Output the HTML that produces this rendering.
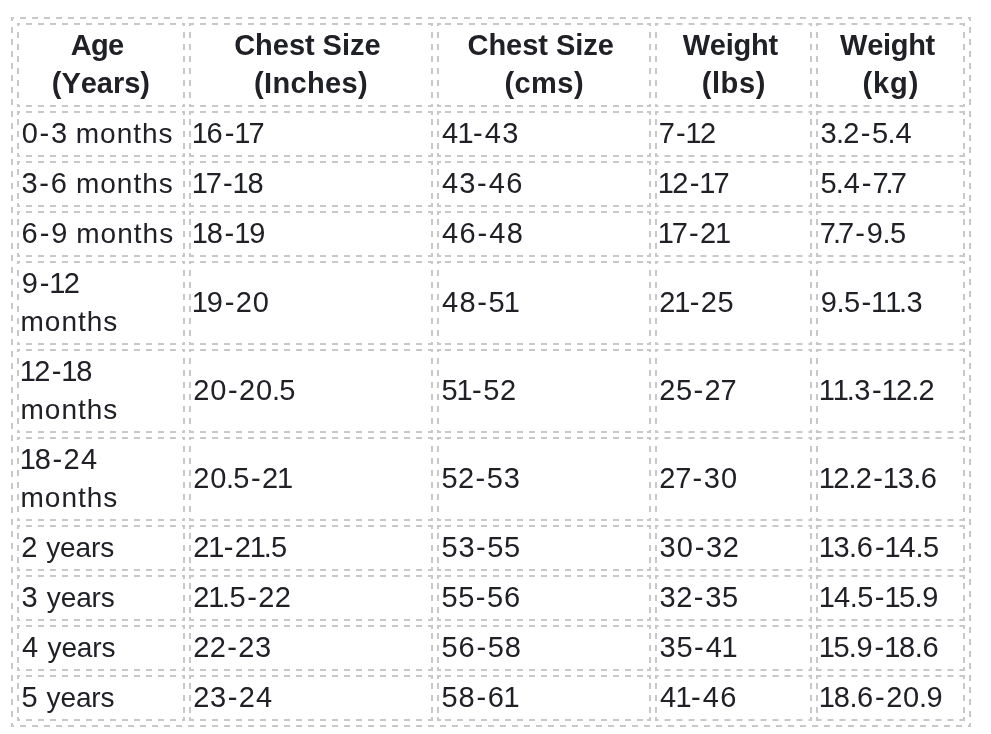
<!DOCTYPE html>
<html lang="en">
<head>
<meta charset="utf-8">
<title>Size chart</title>
<style>
html,body{margin:0;padding:0;background:#fff;}
body{width:991px;height:734px;overflow:hidden;}
svg{display:block;will-change:transform;font-family:"Liberation Sans",Arial,sans-serif;font-size:29px;fill:#202126;}
.bd path{stroke:#c8c8c8;stroke-width:2;fill:none;}
.bd .d{stroke-dasharray:6 6;}
.hd{font-weight:bold;}
.w{font-size:28px;}
text{white-space:pre;}
</style>
</head>
<body>
<svg width="991" height="734" viewBox="0 0 991 734">
<g class="bd">
<path d="M11 18h2M969 18h2"/>
<path class="d" d="M13 18H969" stroke-dashoffset="5"/>
<path d="M11 726h2M969 726h2"/>
<path class="d" d="M13 726H969" stroke-dashoffset="5"/>
<path d="M12 17v2M12 725v2"/>
<path class="d" d="M12 19V725" stroke-dashoffset="4"/>
<path d="M970 17v2M970 725v2"/>
<path class="d" d="M970 19V725" stroke-dashoffset="4"/>
<path d="M17 24h2M183 24h2"/>
<path class="d" d="M19 24H183" stroke-dashoffset="5"/>
<path d="M17 106h2M183 106h2"/>
<path class="d" d="M19 106H183" stroke-dashoffset="5"/>
<path d="M18 23v2M18 105v2"/>
<path class="d" d="M18 25V105" stroke-dashoffset="5"/>
<path d="M184 23v2M184 105v2"/>
<path class="d" d="M184 25V105" stroke-dashoffset="5"/>
<path d="M189 24h2M431 24h2"/>
<path class="d" d="M191 24H431" stroke-dashoffset="3"/>
<path d="M189 106h2M431 106h2"/>
<path class="d" d="M191 106H431" stroke-dashoffset="3"/>
<path d="M190 23v2M190 105v2"/>
<path class="d" d="M190 25V105" stroke-dashoffset="5"/>
<path d="M432 23v2M432 105v2"/>
<path class="d" d="M432 25V105" stroke-dashoffset="5"/>
<path d="M437 24h4M647 24h4"/>
<path class="d" d="M445 24H643"/>
<path d="M437 106h4M647 106h4"/>
<path class="d" d="M445 106H643"/>
<path d="M438 23v2M438 105v2"/>
<path class="d" d="M438 25V105" stroke-dashoffset="5"/>
<path d="M650 23v2M650 105v2"/>
<path class="d" d="M650 25V105" stroke-dashoffset="5"/>
<path d="M655 24h2M810 24h2"/>
<path class="d" d="M657 24H810" stroke-dashoffset="4.5"/>
<path d="M655 106h2M810 106h2"/>
<path class="d" d="M657 106H810" stroke-dashoffset="4.5"/>
<path d="M656 23v2M656 105v2"/>
<path class="d" d="M656 25V105" stroke-dashoffset="5"/>
<path d="M811 23v2M811 105v2"/>
<path class="d" d="M811 25V105" stroke-dashoffset="5"/>
<path d="M816 24h2M963 24h2"/>
<path class="d" d="M818 24H963" stroke-dashoffset="2.5"/>
<path d="M816 106h2M963 106h2"/>
<path class="d" d="M818 106H963" stroke-dashoffset="2.5"/>
<path d="M817 23v2M817 105v2"/>
<path class="d" d="M817 25V105" stroke-dashoffset="5"/>
<path d="M964 23v2M964 105v2"/>
<path class="d" d="M964 25V105" stroke-dashoffset="5"/>
<path d="M17 112h2M183 112h2"/>
<path class="d" d="M19 112H183" stroke-dashoffset="5"/>
<path d="M17 156h2M183 156h2"/>
<path class="d" d="M19 156H183" stroke-dashoffset="5"/>
<path d="M18 111v4M18 153v4"/>
<path class="d" d="M18 119V149"/>
<path d="M184 111v4M184 153v4"/>
<path class="d" d="M184 119V149"/>
<path d="M189 112h2M431 112h2"/>
<path class="d" d="M191 112H431" stroke-dashoffset="3"/>
<path d="M189 156h2M431 156h2"/>
<path class="d" d="M191 156H431" stroke-dashoffset="3"/>
<path d="M190 111v4M190 153v4"/>
<path class="d" d="M190 119V149"/>
<path d="M432 111v4M432 153v4"/>
<path class="d" d="M432 119V149"/>
<path d="M437 112h4M647 112h4"/>
<path class="d" d="M445 112H643"/>
<path d="M437 156h4M647 156h4"/>
<path class="d" d="M445 156H643"/>
<path d="M438 111v4M438 153v4"/>
<path class="d" d="M438 119V149"/>
<path d="M650 111v4M650 153v4"/>
<path class="d" d="M650 119V149"/>
<path d="M655 112h2M810 112h2"/>
<path class="d" d="M657 112H810" stroke-dashoffset="4.5"/>
<path d="M655 156h2M810 156h2"/>
<path class="d" d="M657 156H810" stroke-dashoffset="4.5"/>
<path d="M656 111v4M656 153v4"/>
<path class="d" d="M656 119V149"/>
<path d="M811 111v4M811 153v4"/>
<path class="d" d="M811 119V149"/>
<path d="M816 112h2M963 112h2"/>
<path class="d" d="M818 112H963" stroke-dashoffset="2.5"/>
<path d="M816 156h2M963 156h2"/>
<path class="d" d="M818 156H963" stroke-dashoffset="2.5"/>
<path d="M817 111v4M817 153v4"/>
<path class="d" d="M817 119V149"/>
<path d="M964 111v4M964 153v4"/>
<path class="d" d="M964 119V149"/>
<path d="M17 162h2M183 162h2"/>
<path class="d" d="M19 162H183" stroke-dashoffset="5"/>
<path d="M17 206h2M183 206h2"/>
<path class="d" d="M19 206H183" stroke-dashoffset="5"/>
<path d="M18 161v4M18 203v4"/>
<path class="d" d="M18 169V199"/>
<path d="M184 161v4M184 203v4"/>
<path class="d" d="M184 169V199"/>
<path d="M189 162h2M431 162h2"/>
<path class="d" d="M191 162H431" stroke-dashoffset="3"/>
<path d="M189 206h2M431 206h2"/>
<path class="d" d="M191 206H431" stroke-dashoffset="3"/>
<path d="M190 161v4M190 203v4"/>
<path class="d" d="M190 169V199"/>
<path d="M432 161v4M432 203v4"/>
<path class="d" d="M432 169V199"/>
<path d="M437 162h4M647 162h4"/>
<path class="d" d="M445 162H643"/>
<path d="M437 206h4M647 206h4"/>
<path class="d" d="M445 206H643"/>
<path d="M438 161v4M438 203v4"/>
<path class="d" d="M438 169V199"/>
<path d="M650 161v4M650 203v4"/>
<path class="d" d="M650 169V199"/>
<path d="M655 162h2M810 162h2"/>
<path class="d" d="M657 162H810" stroke-dashoffset="4.5"/>
<path d="M655 206h2M810 206h2"/>
<path class="d" d="M657 206H810" stroke-dashoffset="4.5"/>
<path d="M656 161v4M656 203v4"/>
<path class="d" d="M656 169V199"/>
<path d="M811 161v4M811 203v4"/>
<path class="d" d="M811 169V199"/>
<path d="M816 162h2M963 162h2"/>
<path class="d" d="M818 162H963" stroke-dashoffset="2.5"/>
<path d="M816 206h2M963 206h2"/>
<path class="d" d="M818 206H963" stroke-dashoffset="2.5"/>
<path d="M817 161v4M817 203v4"/>
<path class="d" d="M817 169V199"/>
<path d="M964 161v4M964 203v4"/>
<path class="d" d="M964 169V199"/>
<path d="M17 212h2M183 212h2"/>
<path class="d" d="M19 212H183" stroke-dashoffset="5"/>
<path d="M17 256h2M183 256h2"/>
<path class="d" d="M19 256H183" stroke-dashoffset="5"/>
<path d="M18 211v4M18 253v4"/>
<path class="d" d="M18 219V249"/>
<path d="M184 211v4M184 253v4"/>
<path class="d" d="M184 219V249"/>
<path d="M189 212h2M431 212h2"/>
<path class="d" d="M191 212H431" stroke-dashoffset="3"/>
<path d="M189 256h2M431 256h2"/>
<path class="d" d="M191 256H431" stroke-dashoffset="3"/>
<path d="M190 211v4M190 253v4"/>
<path class="d" d="M190 219V249"/>
<path d="M432 211v4M432 253v4"/>
<path class="d" d="M432 219V249"/>
<path d="M437 212h4M647 212h4"/>
<path class="d" d="M445 212H643"/>
<path d="M437 256h4M647 256h4"/>
<path class="d" d="M445 256H643"/>
<path d="M438 211v4M438 253v4"/>
<path class="d" d="M438 219V249"/>
<path d="M650 211v4M650 253v4"/>
<path class="d" d="M650 219V249"/>
<path d="M655 212h2M810 212h2"/>
<path class="d" d="M657 212H810" stroke-dashoffset="4.5"/>
<path d="M655 256h2M810 256h2"/>
<path class="d" d="M657 256H810" stroke-dashoffset="4.5"/>
<path d="M656 211v4M656 253v4"/>
<path class="d" d="M656 219V249"/>
<path d="M811 211v4M811 253v4"/>
<path class="d" d="M811 219V249"/>
<path d="M816 212h2M963 212h2"/>
<path class="d" d="M818 212H963" stroke-dashoffset="2.5"/>
<path d="M816 256h2M963 256h2"/>
<path class="d" d="M818 256H963" stroke-dashoffset="2.5"/>
<path d="M817 211v4M817 253v4"/>
<path class="d" d="M817 219V249"/>
<path d="M964 211v4M964 253v4"/>
<path class="d" d="M964 219V249"/>
<path d="M17 262h2M183 262h2"/>
<path class="d" d="M19 262H183" stroke-dashoffset="5"/>
<path d="M17 344h2M183 344h2"/>
<path class="d" d="M19 344H183" stroke-dashoffset="5"/>
<path d="M18 261v2M18 343v2"/>
<path class="d" d="M18 263V343" stroke-dashoffset="5"/>
<path d="M184 261v2M184 343v2"/>
<path class="d" d="M184 263V343" stroke-dashoffset="5"/>
<path d="M189 262h2M431 262h2"/>
<path class="d" d="M191 262H431" stroke-dashoffset="3"/>
<path d="M189 344h2M431 344h2"/>
<path class="d" d="M191 344H431" stroke-dashoffset="3"/>
<path d="M190 261v2M190 343v2"/>
<path class="d" d="M190 263V343" stroke-dashoffset="5"/>
<path d="M432 261v2M432 343v2"/>
<path class="d" d="M432 263V343" stroke-dashoffset="5"/>
<path d="M437 262h4M647 262h4"/>
<path class="d" d="M445 262H643"/>
<path d="M437 344h4M647 344h4"/>
<path class="d" d="M445 344H643"/>
<path d="M438 261v2M438 343v2"/>
<path class="d" d="M438 263V343" stroke-dashoffset="5"/>
<path d="M650 261v2M650 343v2"/>
<path class="d" d="M650 263V343" stroke-dashoffset="5"/>
<path d="M655 262h2M810 262h2"/>
<path class="d" d="M657 262H810" stroke-dashoffset="4.5"/>
<path d="M655 344h2M810 344h2"/>
<path class="d" d="M657 344H810" stroke-dashoffset="4.5"/>
<path d="M656 261v2M656 343v2"/>
<path class="d" d="M656 263V343" stroke-dashoffset="5"/>
<path d="M811 261v2M811 343v2"/>
<path class="d" d="M811 263V343" stroke-dashoffset="5"/>
<path d="M816 262h2M963 262h2"/>
<path class="d" d="M818 262H963" stroke-dashoffset="2.5"/>
<path d="M816 344h2M963 344h2"/>
<path class="d" d="M818 344H963" stroke-dashoffset="2.5"/>
<path d="M817 261v2M817 343v2"/>
<path class="d" d="M817 263V343" stroke-dashoffset="5"/>
<path d="M964 261v2M964 343v2"/>
<path class="d" d="M964 263V343" stroke-dashoffset="5"/>
<path d="M17 350h2M183 350h2"/>
<path class="d" d="M19 350H183" stroke-dashoffset="5"/>
<path d="M17 432h2M183 432h2"/>
<path class="d" d="M19 432H183" stroke-dashoffset="5"/>
<path d="M18 349v2M18 431v2"/>
<path class="d" d="M18 351V431" stroke-dashoffset="5"/>
<path d="M184 349v2M184 431v2"/>
<path class="d" d="M184 351V431" stroke-dashoffset="5"/>
<path d="M189 350h2M431 350h2"/>
<path class="d" d="M191 350H431" stroke-dashoffset="3"/>
<path d="M189 432h2M431 432h2"/>
<path class="d" d="M191 432H431" stroke-dashoffset="3"/>
<path d="M190 349v2M190 431v2"/>
<path class="d" d="M190 351V431" stroke-dashoffset="5"/>
<path d="M432 349v2M432 431v2"/>
<path class="d" d="M432 351V431" stroke-dashoffset="5"/>
<path d="M437 350h4M647 350h4"/>
<path class="d" d="M445 350H643"/>
<path d="M437 432h4M647 432h4"/>
<path class="d" d="M445 432H643"/>
<path d="M438 349v2M438 431v2"/>
<path class="d" d="M438 351V431" stroke-dashoffset="5"/>
<path d="M650 349v2M650 431v2"/>
<path class="d" d="M650 351V431" stroke-dashoffset="5"/>
<path d="M655 350h2M810 350h2"/>
<path class="d" d="M657 350H810" stroke-dashoffset="4.5"/>
<path d="M655 432h2M810 432h2"/>
<path class="d" d="M657 432H810" stroke-dashoffset="4.5"/>
<path d="M656 349v2M656 431v2"/>
<path class="d" d="M656 351V431" stroke-dashoffset="5"/>
<path d="M811 349v2M811 431v2"/>
<path class="d" d="M811 351V431" stroke-dashoffset="5"/>
<path d="M816 350h2M963 350h2"/>
<path class="d" d="M818 350H963" stroke-dashoffset="2.5"/>
<path d="M816 432h2M963 432h2"/>
<path class="d" d="M818 432H963" stroke-dashoffset="2.5"/>
<path d="M817 349v2M817 431v2"/>
<path class="d" d="M817 351V431" stroke-dashoffset="5"/>
<path d="M964 349v2M964 431v2"/>
<path class="d" d="M964 351V431" stroke-dashoffset="5"/>
<path d="M17 438h2M183 438h2"/>
<path class="d" d="M19 438H183" stroke-dashoffset="5"/>
<path d="M17 520h2M183 520h2"/>
<path class="d" d="M19 520H183" stroke-dashoffset="5"/>
<path d="M18 437v2M18 519v2"/>
<path class="d" d="M18 439V519" stroke-dashoffset="5"/>
<path d="M184 437v2M184 519v2"/>
<path class="d" d="M184 439V519" stroke-dashoffset="5"/>
<path d="M189 438h2M431 438h2"/>
<path class="d" d="M191 438H431" stroke-dashoffset="3"/>
<path d="M189 520h2M431 520h2"/>
<path class="d" d="M191 520H431" stroke-dashoffset="3"/>
<path d="M190 437v2M190 519v2"/>
<path class="d" d="M190 439V519" stroke-dashoffset="5"/>
<path d="M432 437v2M432 519v2"/>
<path class="d" d="M432 439V519" stroke-dashoffset="5"/>
<path d="M437 438h4M647 438h4"/>
<path class="d" d="M445 438H643"/>
<path d="M437 520h4M647 520h4"/>
<path class="d" d="M445 520H643"/>
<path d="M438 437v2M438 519v2"/>
<path class="d" d="M438 439V519" stroke-dashoffset="5"/>
<path d="M650 437v2M650 519v2"/>
<path class="d" d="M650 439V519" stroke-dashoffset="5"/>
<path d="M655 438h2M810 438h2"/>
<path class="d" d="M657 438H810" stroke-dashoffset="4.5"/>
<path d="M655 520h2M810 520h2"/>
<path class="d" d="M657 520H810" stroke-dashoffset="4.5"/>
<path d="M656 437v2M656 519v2"/>
<path class="d" d="M656 439V519" stroke-dashoffset="5"/>
<path d="M811 437v2M811 519v2"/>
<path class="d" d="M811 439V519" stroke-dashoffset="5"/>
<path d="M816 438h2M963 438h2"/>
<path class="d" d="M818 438H963" stroke-dashoffset="2.5"/>
<path d="M816 520h2M963 520h2"/>
<path class="d" d="M818 520H963" stroke-dashoffset="2.5"/>
<path d="M817 437v2M817 519v2"/>
<path class="d" d="M817 439V519" stroke-dashoffset="5"/>
<path d="M964 437v2M964 519v2"/>
<path class="d" d="M964 439V519" stroke-dashoffset="5"/>
<path d="M17 526h2M183 526h2"/>
<path class="d" d="M19 526H183" stroke-dashoffset="5"/>
<path d="M17 570h2M183 570h2"/>
<path class="d" d="M19 570H183" stroke-dashoffset="5"/>
<path d="M18 525v4M18 567v4"/>
<path class="d" d="M18 533V563"/>
<path d="M184 525v4M184 567v4"/>
<path class="d" d="M184 533V563"/>
<path d="M189 526h2M431 526h2"/>
<path class="d" d="M191 526H431" stroke-dashoffset="3"/>
<path d="M189 570h2M431 570h2"/>
<path class="d" d="M191 570H431" stroke-dashoffset="3"/>
<path d="M190 525v4M190 567v4"/>
<path class="d" d="M190 533V563"/>
<path d="M432 525v4M432 567v4"/>
<path class="d" d="M432 533V563"/>
<path d="M437 526h4M647 526h4"/>
<path class="d" d="M445 526H643"/>
<path d="M437 570h4M647 570h4"/>
<path class="d" d="M445 570H643"/>
<path d="M438 525v4M438 567v4"/>
<path class="d" d="M438 533V563"/>
<path d="M650 525v4M650 567v4"/>
<path class="d" d="M650 533V563"/>
<path d="M655 526h2M810 526h2"/>
<path class="d" d="M657 526H810" stroke-dashoffset="4.5"/>
<path d="M655 570h2M810 570h2"/>
<path class="d" d="M657 570H810" stroke-dashoffset="4.5"/>
<path d="M656 525v4M656 567v4"/>
<path class="d" d="M656 533V563"/>
<path d="M811 525v4M811 567v4"/>
<path class="d" d="M811 533V563"/>
<path d="M816 526h2M963 526h2"/>
<path class="d" d="M818 526H963" stroke-dashoffset="2.5"/>
<path d="M816 570h2M963 570h2"/>
<path class="d" d="M818 570H963" stroke-dashoffset="2.5"/>
<path d="M817 525v4M817 567v4"/>
<path class="d" d="M817 533V563"/>
<path d="M964 525v4M964 567v4"/>
<path class="d" d="M964 533V563"/>
<path d="M17 576h2M183 576h2"/>
<path class="d" d="M19 576H183" stroke-dashoffset="5"/>
<path d="M17 620h2M183 620h2"/>
<path class="d" d="M19 620H183" stroke-dashoffset="5"/>
<path d="M18 575v4M18 617v4"/>
<path class="d" d="M18 583V613"/>
<path d="M184 575v4M184 617v4"/>
<path class="d" d="M184 583V613"/>
<path d="M189 576h2M431 576h2"/>
<path class="d" d="M191 576H431" stroke-dashoffset="3"/>
<path d="M189 620h2M431 620h2"/>
<path class="d" d="M191 620H431" stroke-dashoffset="3"/>
<path d="M190 575v4M190 617v4"/>
<path class="d" d="M190 583V613"/>
<path d="M432 575v4M432 617v4"/>
<path class="d" d="M432 583V613"/>
<path d="M437 576h4M647 576h4"/>
<path class="d" d="M445 576H643"/>
<path d="M437 620h4M647 620h4"/>
<path class="d" d="M445 620H643"/>
<path d="M438 575v4M438 617v4"/>
<path class="d" d="M438 583V613"/>
<path d="M650 575v4M650 617v4"/>
<path class="d" d="M650 583V613"/>
<path d="M655 576h2M810 576h2"/>
<path class="d" d="M657 576H810" stroke-dashoffset="4.5"/>
<path d="M655 620h2M810 620h2"/>
<path class="d" d="M657 620H810" stroke-dashoffset="4.5"/>
<path d="M656 575v4M656 617v4"/>
<path class="d" d="M656 583V613"/>
<path d="M811 575v4M811 617v4"/>
<path class="d" d="M811 583V613"/>
<path d="M816 576h2M963 576h2"/>
<path class="d" d="M818 576H963" stroke-dashoffset="2.5"/>
<path d="M816 620h2M963 620h2"/>
<path class="d" d="M818 620H963" stroke-dashoffset="2.5"/>
<path d="M817 575v4M817 617v4"/>
<path class="d" d="M817 583V613"/>
<path d="M964 575v4M964 617v4"/>
<path class="d" d="M964 583V613"/>
<path d="M17 626h2M183 626h2"/>
<path class="d" d="M19 626H183" stroke-dashoffset="5"/>
<path d="M17 670h2M183 670h2"/>
<path class="d" d="M19 670H183" stroke-dashoffset="5"/>
<path d="M18 625v4M18 667v4"/>
<path class="d" d="M18 633V663"/>
<path d="M184 625v4M184 667v4"/>
<path class="d" d="M184 633V663"/>
<path d="M189 626h2M431 626h2"/>
<path class="d" d="M191 626H431" stroke-dashoffset="3"/>
<path d="M189 670h2M431 670h2"/>
<path class="d" d="M191 670H431" stroke-dashoffset="3"/>
<path d="M190 625v4M190 667v4"/>
<path class="d" d="M190 633V663"/>
<path d="M432 625v4M432 667v4"/>
<path class="d" d="M432 633V663"/>
<path d="M437 626h4M647 626h4"/>
<path class="d" d="M445 626H643"/>
<path d="M437 670h4M647 670h4"/>
<path class="d" d="M445 670H643"/>
<path d="M438 625v4M438 667v4"/>
<path class="d" d="M438 633V663"/>
<path d="M650 625v4M650 667v4"/>
<path class="d" d="M650 633V663"/>
<path d="M655 626h2M810 626h2"/>
<path class="d" d="M657 626H810" stroke-dashoffset="4.5"/>
<path d="M655 670h2M810 670h2"/>
<path class="d" d="M657 670H810" stroke-dashoffset="4.5"/>
<path d="M656 625v4M656 667v4"/>
<path class="d" d="M656 633V663"/>
<path d="M811 625v4M811 667v4"/>
<path class="d" d="M811 633V663"/>
<path d="M816 626h2M963 626h2"/>
<path class="d" d="M818 626H963" stroke-dashoffset="2.5"/>
<path d="M816 670h2M963 670h2"/>
<path class="d" d="M818 670H963" stroke-dashoffset="2.5"/>
<path d="M817 625v4M817 667v4"/>
<path class="d" d="M817 633V663"/>
<path d="M964 625v4M964 667v4"/>
<path class="d" d="M964 633V663"/>
<path d="M17 676h2M183 676h2"/>
<path class="d" d="M19 676H183" stroke-dashoffset="5"/>
<path d="M17 720h2M183 720h2"/>
<path class="d" d="M19 720H183" stroke-dashoffset="5"/>
<path d="M18 675v4M18 717v4"/>
<path class="d" d="M18 683V713"/>
<path d="M184 675v4M184 717v4"/>
<path class="d" d="M184 683V713"/>
<path d="M189 676h2M431 676h2"/>
<path class="d" d="M191 676H431" stroke-dashoffset="3"/>
<path d="M189 720h2M431 720h2"/>
<path class="d" d="M191 720H431" stroke-dashoffset="3"/>
<path d="M190 675v4M190 717v4"/>
<path class="d" d="M190 683V713"/>
<path d="M432 675v4M432 717v4"/>
<path class="d" d="M432 683V713"/>
<path d="M437 676h4M647 676h4"/>
<path class="d" d="M445 676H643"/>
<path d="M437 720h4M647 720h4"/>
<path class="d" d="M445 720H643"/>
<path d="M438 675v4M438 717v4"/>
<path class="d" d="M438 683V713"/>
<path d="M650 675v4M650 717v4"/>
<path class="d" d="M650 683V713"/>
<path d="M655 676h2M810 676h2"/>
<path class="d" d="M657 676H810" stroke-dashoffset="4.5"/>
<path d="M655 720h2M810 720h2"/>
<path class="d" d="M657 720H810" stroke-dashoffset="4.5"/>
<path d="M656 675v4M656 717v4"/>
<path class="d" d="M656 683V713"/>
<path d="M811 675v4M811 717v4"/>
<path class="d" d="M811 683V713"/>
<path d="M816 676h2M963 676h2"/>
<path class="d" d="M818 676H963" stroke-dashoffset="2.5"/>
<path d="M816 720h2M963 720h2"/>
<path class="d" d="M818 720H963" stroke-dashoffset="2.5"/>
<path d="M817 675v4M817 717v4"/>
<path class="d" d="M817 683V713"/>
<path d="M964 675v4M964 717v4"/>
<path class="d" d="M964 683V713"/>
</g>
<g class="hd">
<text x="70.8 91 108.1" y="55">Age</text>
<text x="51.8 61.4 80.7 96.8 112.9 124.2 140.3" y="93">(Years)</text>
<text x="234.2 255.1 272.8 288.9 305 314.6 322.6 341.9 349.9 364.4" y="55">Chest Size</text>
<text x="254 264 272.4 290.5 306.9 325 341.5 358" y="93">(Inches)</text>
<text x="467.5 488.4 506.1 522.2 538.3 547.9 556 575.3 583.3 597.8" y="55">Chest Size</text>
<text x="504.5 514.5 531.1 557.3 573.9" y="93">(cms)</text>
<text x="682.7 709.8 725.7 733.5 750.9 768.4" y="55">Weight</text>
<text x="701.7 711.9 720.6 738.9 755.7" y="93">(lbs)</text>
<text x="840.1 867.2 883 890.8 908.2 925.6" y="55">Weight</text>
<text x="862.6 873.1 890.1 908.7" y="93">(kg)</text>
</g>
<g class="td">
<text x="21.7 39.6 51 67.5" y="143">0-3 <tspan class="w" x="75.8 100.1 116.7 133.3 142.1 158.6">months</tspan></text>
<text x="191.8 206.6 224.7 234.3 248.4" y="143">16-17</text>
<text x="441.9 457.5 473 484.7 502.2" y="143">41-43</text>
<text x="658.8 675.9 685.5 700" y="143">7-12</text>
<text x="820.6 836.1 843.3 860.8 872 887.4 895.4" y="143">3.2-5.4</text>
<text x="21.6 39.3 50.7 67.6" y="193">3-6 <tspan class="w" x="75.9 100.2 116.8 133.4 142.2 158.7">months</tspan></text>
<text x="191.8 205.8 222.9 232.5 247.4" y="193">17-18</text>
<text x="441.9 459.3 477 488.8 506.2" y="193">43-46</text>
<text x="657.8 672.2 689.7 699.3 713.4" y="193">12-17</text>
<text x="820.4 835.8 843.8 861.8 872.4 885.5 890.7" y="193">5.4-7.7</text>
<text x="21.6 39.7 51.2 68" y="243">6-9 <tspan class="w" x="76.3 100.6 117.2 133.8 142.6 159.2">months</tspan></text>
<text x="191.8 206.7 224.6 234.2 249.2" y="243">18-19</text>
<text x="441.9 459.4 477.5 489.2 506.7" y="243">46-48</text>
<text x="657.8 671.8 688.9 700 715" y="243">17-21</text>
<text x="819.8 832.9 838.1 855.2 866.8 882.6 890" y="243">7.7-9.5</text>
<text x="21.7 39.7 49.3 63.8" y="293">9-12</text>
<text class="w" x="20.4 44.8 61.4 77.9 86.7 103.3" y="331">months</text>
<text x="191.8 206.7 224.7 235.8 252.7" y="312">19-20</text>
<text x="441.9 459.4 477.3 488.5 503.7" y="312">48-51</text>
<text x="659.2 674.3 689.7 700.7 717.4" y="312">21-25</text>
<text x="820.7 836.5 843.9 861.5 871.1 885.2 899 906.6" y="312">9.5-11.3</text>
<text x="19.8 34.2 51.7 61.3 76.2" y="381">12-18</text>
<text class="w" x="20.4 44.8 61.4 77.9 86.7 103.3" y="419">months</text>
<text x="193.2 210.2 228.1 239.1 256.1 271.9 279.3" y="400">20-20.5</text>
<text x="441.4 456.6 472 483.2 499.9" y="400">51-52</text>
<text x="659.2 675.9 693.5 704.5 720.6" y="400">25-27</text>
<text x="818.8 832.8 846.7 854.3 872 881.6 896 911.3 918.6" y="400">11.3-12.2</text>
<text x="19.8 34.7 52.6 63.6 80.9" y="469">18-24</text>
<text class="w" x="20.4 44.8 61.4 77.9 86.7 103.3" y="507">months</text>
<text x="193.2 210.2 225.9 233.3 251 262 277.1" y="488">20.5-21</text>
<text x="441.4 458 475.5 486.7 503.7" y="488">52-53</text>
<text x="659.2 675.3 692.4 703.8 721" y="488">27-30</text>
<text x="818.8 833.2 848.5 855.8 873.3 882.8 897.7 913.2 920.8" y="488">12.2-13.6</text>
<text x="21.2 37.5" y="557">2 <tspan class="w" x="46.2 60.1 75.6 91 100.2">years</tspan></text>
<text x="193.2 208.3 223.7 234.7 249.8 263.7 271.1" y="557">21-21.5</text>
<text x="441.4 458.4 476.1 487.3 504.1" y="557">53-55</text>
<text x="659.6 676.8 694.7 706.1 722.8" y="557">30-32</text>
<text x="818.8 833.6 849.1 856.8 874.9 884.4 899.6 915.5 922.9" y="557">13.6-14.5</text>
<text x="21.6 38.1" y="607">3 <tspan class="w" x="46.8 60.7 76.2 91.6 100.8">years</tspan></text>
<text x="193.2 208.3 222.1 229.6 247.2 258.2 274.7" y="607">21.5-22</text>
<text x="441.4 458.2 475.8 487 504.1" y="607">55-56</text>
<text x="659.6 676.3 693.8 705.2 722.1" y="607">32-35</text>
<text x="818.8 834 849.8 857.2 874.8 884.4 899.1 914.5 922.2" y="607">14.5-15.9</text>
<text x="21.9 38.8" y="657">4 <tspan class="w" x="47.5 61.4 76.8 92.3 101.5">years</tspan></text>
<text x="193.2 209.7 227.2 238.2 255.1" y="657">22-23</text>
<text x="441.4 458.4 476.5 487.7 504.8" y="657">56-58</text>
<text x="659.6 676.5 694.1 705.8 721.5" y="657">35-41</text>
<text x="818.8 833.4 848.8 856.6 874.6 884.2 899.1 914.8 922.4" y="657">15.9-18.6</text>
<text x="21.4 37.8" y="707">5 <tspan class="w" x="46.6 60.4 75.9 91.3 100.5">years</tspan></text>
<text x="193.2 210.1 227.8 238.8 256" y="707">23-24</text>
<text x="441.4 458.5 476.4 487.8 503.5" y="707">58-61</text>
<text x="659.9 675.5 691 702.7 720.2" y="707">41-46</text>
<text x="818.8 833.7 849.4 857 875.1 886.2 903.1 918.9 926.6" y="707">18.6-20.9</text>
</g>
</svg>
</body>
</html>
